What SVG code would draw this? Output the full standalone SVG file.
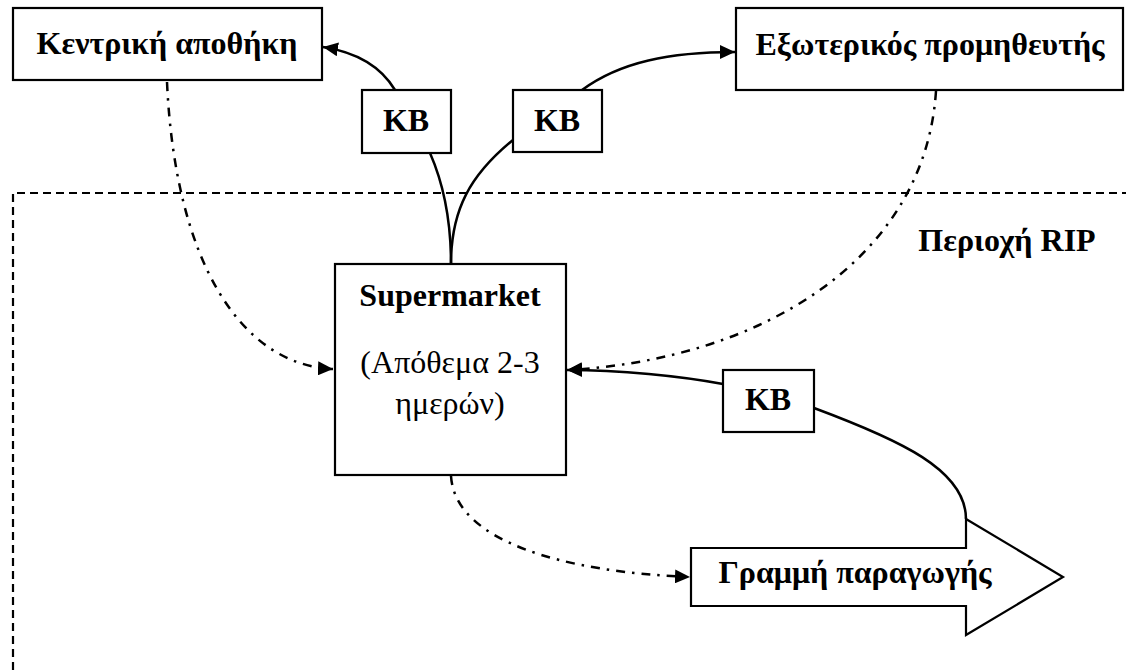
<svg xmlns="http://www.w3.org/2000/svg" width="1126" height="670" viewBox="0 0 1126 670">
<defs>
<marker id="ah" markerUnits="userSpaceOnUse" markerWidth="16" markerHeight="14" refX="15" refY="7" orient="auto" viewBox="0 0 16 14">
<path d="M0,0 L15,7 L0,14 Z" fill="#000"/>
</marker>
<style>
.box{fill:#fff;stroke:#000;stroke-width:2.2}
.t{font-family:"Liberation Serif","Times New Roman",serif;font-size:32px;text-anchor:middle;fill:#000}
.b{font-weight:bold}
.solid{fill:none;stroke:#000;stroke-width:2.5}
.dd{fill:none;stroke:#000;stroke-width:2.5;stroke-dasharray:9 7 2.5 7}
.dash{fill:none;stroke:#000;stroke-width:2.2;stroke-dasharray:8 5}
</style>
</defs>
<rect width="1126" height="670" fill="#fff"/>
<g id="rip-area">
<path class="dash" d="M13,670 L13,193 L1126,193"/>
<text class="t b" x="1007" y="251">Περιοχή RIP</text>
</g>
<g id="connectors">
<path class="dd" d="M167,82 C175,260 240,365 333,369" marker-end="url(#ah)"/>
<path class="dd" d="M936,91 C925,260 760,360 567,370" marker-end="url(#ah)"/>
<path class="dd" d="M451,476 C455,540 560,572 690,577" marker-end="url(#ah)"/>
<path class="solid" d="M723,384 C680,376 620,370 567,370" marker-end="url(#ah)"/>
<path class="solid" d="M814,408 C900,440 966,470 966,519"/>
<path class="solid" d="M451,264 C451,220 444,185 430,153"/>
<path class="solid" d="M451,264 C451,210 470,175 513,140"/>
<path class="solid" d="M395,90 C380,65 355,52 323,47" marker-end="url(#ah)"/>
<path class="solid" d="M582,90 C620,62 670,52 735,52" marker-end="url(#ah)"/>
</g>
<g id="kentriki">
<rect class="box" x="13" y="8" width="309" height="72"/>
<text class="t b" x="167" y="54">Κεντρική αποθήκη</text>
</g>
<g id="eksoterikos">
<rect class="box" x="736" y="8" width="387" height="82"/>
<text class="t b" x="930" y="55">Εξωτερικός προμηθευτής</text>
</g>
<g id="kb1">
<rect class="box" x="362" y="90" width="89" height="63"/>
<text class="t b" x="406" y="131">KB</text>
</g>
<g id="kb2">
<rect class="box" x="513" y="90" width="89" height="62"/>
<text class="t b" x="557" y="131">KB</text>
</g>
<g id="kb3">
<rect class="box" x="723" y="370" width="91" height="62"/>
<text class="t b" x="768" y="410">KB</text>
</g>
<g id="supermarket">
<rect class="box" x="335" y="264" width="231" height="211"/>
<text class="t b" x="450" y="306">Supermarket</text>
<text class="t" x="450" y="373">(Απόθεμα 2-3</text>
<text class="t" x="450" y="414">ημερών)</text>
</g>
<g id="grammi">
<path class="box" d="M691,548 L966,548 L966,519 L1063,577 L966,635 L966,606 L691,606 Z"/>
<text class="t b" x="855" y="583">Γραμμή παραγωγής</text>
</g>
</svg>
